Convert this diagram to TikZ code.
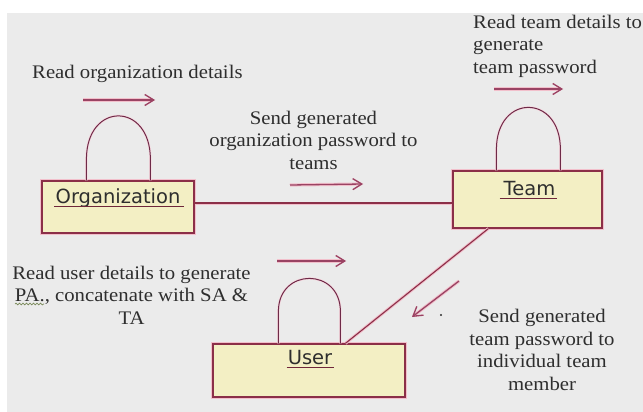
\documentclass[tikz,border=0pt]{standalone}
\usepackage{fontspec}
\setmainfont{Liberation Serif}[FakeStretch=1.08]
\newfontfamily\boxfont{DejaVu Sans}
\usetikzlibrary{arrows.meta,decorations.pathmorphing}
\definecolor{bggray}{HTML}{EBEBEB}
\definecolor{boxfill}{HTML}{F3EFC4}
\definecolor{maroon}{HTML}{8B2F48}
\definecolor{halo}{HTML}{F2BFCB}
\definecolor{loopcol}{HTML}{6E2A48}
\definecolor{arrowcol}{HTML}{9A4363}
\definecolor{txt}{HTML}{2E2E2E}
\definecolor{squig}{HTML}{7A8A5A}
\tikzset{
  boxnode/.style={rectangle, fill=boxfill, draw=maroon, line width=1.2pt,
    preaction={draw=halo, line width=3.4pt}, inner sep=0pt},
  boxlabel/.style={inner sep=0pt, anchor=base, text=txt,
    font=\boxfont\fontsize{19.5}{22}\selectfont},
  uline/.style={draw=maroon!80!black, line width=0.9pt},
  conn/.style={draw=maroon, line width=1.1pt, preaction={draw=halo, line width=3pt}},
  selfloop/.style={draw=loopcol, line width=1pt, preaction={draw=halo!60, line width=2.4pt}},
  flow/.style={draw=arrowcol, line width=1.3pt, preaction={draw=halo, line width=3.2pt},
    -{Straight Barb[length=9pt,width=11pt,line width=1.3pt]}},
  note/.style={inner sep=0pt, text=txt, font=\fontsize{19.2}{22.5}\selectfont}
}
\begin{document}
\begin{tikzpicture}[x=1pt,y=-1pt]
\useasboundingbox (0,0) rectangle (643,412);
\fill[white] (0,0) rectangle (643,412);
\fill[bggray] (7,13) rectangle (643,412);

% boxes
\node[boxnode, minimum width=152pt, minimum height=52pt] (org) at (118,207) {};
\node[boxnode, minimum width=149pt, minimum height=57pt] (team) at (527.5,199.5) {};
\node[boxnode, minimum width=192pt, minimum height=53pt] (user) at (309,370.5) {};

% box labels
\node[boxlabel] (orglab) at (118,203) {Organization};
\node[boxlabel] (teamlab) at (529.5,195) {Team};
\node[boxlabel] (userlab) at (310,364) {User};
\draw[uline] ([yshift=-3.5pt,xshift=-1pt]orglab.base west) -- ([yshift=-3.5pt,xshift=3pt]orglab.base east);
\draw[uline] ([yshift=-3pt,xshift=-4pt]teamlab.base west) -- ([yshift=-3pt,xshift=2pt]teamlab.base east);
\draw[uline] ([yshift=-3pt,xshift=-1pt]userlab.base west) -- ([yshift=-3pt,xshift=2pt]userlab.base east);

% self loops
\draw[selfloop] ([xshift=45pt]org.north west) -- ++(0,-21)
  .. controls +(0,-58) and +(0,-58) .. ++(64,0) -- ++(0,21);
\draw[selfloop] ([xshift=44pt]team.north west) -- ++(0,-21)
  .. controls +(0,-56) and +(0,-56) .. ++(64,0) -- ++(0,21);
\draw[selfloop] ([xshift=66pt]user.north west) -- ++(0,-32)
  .. controls +(0,-44) and +(0,-44) .. ++(62,0) -- ++(0,32);

% connectors between boxes
\draw[conn] (org.east |- 0,203) -- (team.west |- 0,203);
\draw[conn] ([xshift=36pt]team.south west) -- ([xshift=133pt]user.north west);

% flow arrows
\coordinate (a1s) at (83,100);  \coordinate (a1e) at (155,100);
\coordinate (a2s) at (494,89);  \coordinate (a2e) at (563,89);
\coordinate (a3s) at (290,185); \coordinate (a3e) at (363,184);
\coordinate (a4s) at (277,261); \coordinate (a4e) at (346,261);
\coordinate (a5s) at (459,281); \coordinate (a5e) at (412,317);
\draw[flow] (a1s) -- (a1e);
\draw[flow] (a2s) -- (a2e);
\draw[flow] (a3s) -- (a3e);
\draw[flow] (a4s) -- (a4e);
\draw[flow] (a5s) -- (a5e);
\fill[txt] (441,315) circle (1.1pt);

% texts
\node[note, anchor=west] (t1) at (32,74) {Read organization details};
\node[note, align=center] (t2) at (313.5,140) {Send generated\\organization password to\\teams};
\node[note, align=left, anchor=west] (t3) at (473,46) {Read team details to\\generate\\team password};
\node[note, align=center] (t4) at (131.5,295) {Read user details to generate\\PA., concatenate with SA \&\\TA};
\node[note, align=center] (t5) at (542,350) {Send generated\\team password to\\individual team\\member};
\draw[squig, line width=0.7pt, decorate, decoration={snake, amplitude=0.9pt, segment length=3.5pt}] (15,304) -- (44,304);
\end{tikzpicture}
\end{document}
